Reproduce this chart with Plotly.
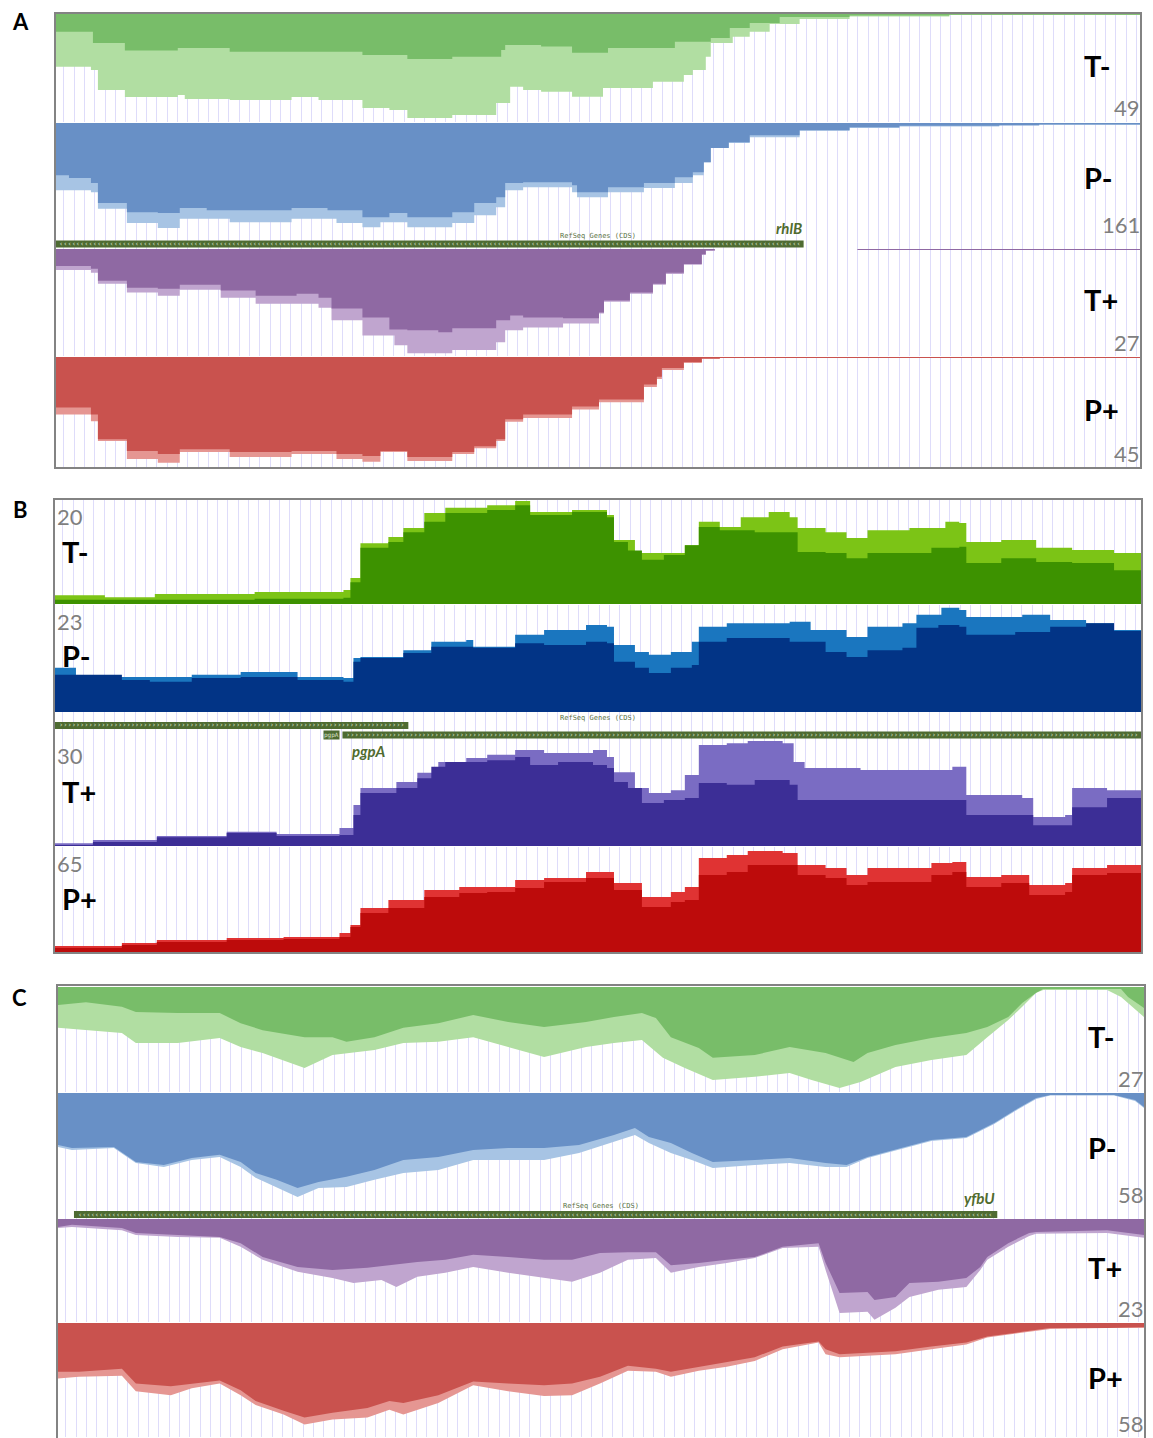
import plotly.graph_objects as go

FIG_W, FIG_H = 1153, 1438

# ------------------------------------------------------------------
# Read coverage per strand track: position offset along the locus and
# depth.  "hi" = total signal (light fill), "lo" = inner signal (dark fill)
# ------------------------------------------------------------------

# ---- Panel A : rhlB locus ----
A_Tm_lo_pos = [0, 37, 69, 122, 174, 238, 307, 352, 397, 446, 450, 486, 517, 553, 620, 656, 675, 695, 725, 795, 895, 1086]
A_Tm_lo_cov = [8.0, 13.2, 16.6, 15.4, 17.1, 17.1, 18.6, 20.4, 19.4, 16.3, 14.1, 14.8, 17.6, 15.4, 12.6, 10.9, 6.4, 4.1, 1.4, 0.7, 0.3, 0.2]
A_Tm_hi_pos = [0, 35, 42, 57, 69, 122, 129, 174, 236, 263, 307, 334, 352, 397, 441, 455, 468, 486, 517, 548, 598, 629, 638, 651, 656, 678, 695, 715, 745, 795, 895, 1086]
A_Tm_hi_cov = [23.9, 25.4, 34.5, 34.5, 37.7, 36.8, 38.6, 39.0, 37.7, 39.0, 42.6, 43.6, 47.2, 45.8, 40.4, 33.0, 34.5, 35.3, 37.5, 33.6, 30.7, 27.7, 25.4, 19.4, 13.2, 10.3, 8.0, 4.5, 2.3, 1.1, 0.5, 0.3]

A_Pm_lo_pos = [0, 13, 35, 42, 62, 71, 102, 124, 151, 218, 236, 272, 307, 334, 352, 397, 419, 441, 450, 468, 517, 522, 553, 589, 620, 638, 649, 656, 674, 695, 745, 795, 845, 945, 985, 1086]
A_Pm_lo_cov = [73, 77, 84, 112, 112, 125, 126, 119, 122, 122, 119, 122, 132, 126, 132, 125, 112, 104, 84, 83, 87, 97, 90, 84, 76, 69, 55, 35, 27, 17, 10, 6, 4, 3, 2, 1]
A_Pm_hi_pos = [0, 35, 42, 71, 102, 124, 174, 236, 281, 307, 325, 352, 397, 419, 441, 450, 468, 517, 522, 553, 589, 620, 638, 649, 656, 674, 695, 745, 795, 845, 945, 985, 1086]
A_Pm_hi_cov = [94, 97, 120, 140, 147, 134, 139, 134, 140, 146, 139, 146, 140, 129, 118, 94, 90, 97, 104, 97, 91, 84, 73, 55, 35, 28, 20, 11, 7, 5, 3.5, 2.5, 1]

A_Tp_lo_pos = [0, 35, 42, 71, 102, 124, 165, 200, 241, 263, 276, 307, 334, 352, 383, 397, 441, 455, 468, 508, 544, 549, 575, 598, 611, 629, 647, 651, 660, 802, 803, 1086]
A_Tp_lo_cov = [4.3, 5.0, 8.0, 9.8, 10.0, 9.0, 10.5, 11.8, 11.3, 12.3, 15.0, 17.3, 20.3, 20.5, 21.0, 20.0, 18.0, 16.8, 17.3, 17.5, 16.0, 13.0, 11.0, 8.8, 6.0, 3.8, 1.3, 0.3, 0, 0, 0.25, 0.25]
A_Tp_hi_pos = [0, 35, 42, 71, 102, 124, 165, 200, 241, 263, 276, 307, 330, 339, 352, 375, 397, 441, 450, 468, 508, 544, 549, 575, 598, 611, 629, 647, 651, 660, 802, 803, 1086]
A_Tp_hi_cov = [5.3, 6.0, 8.8, 11.0, 11.8, 10.3, 12.3, 13.8, 13.8, 14.8, 18.0, 21.8, 21.8, 24.3, 26.3, 26.3, 25.5, 23.5, 20.5, 19.8, 18.8, 16.3, 13.3, 11.3, 9.0, 6.3, 4.0, 1.5, 0.5, 0, 0, 0.25, 0.25]

A_Pp_pos = [0, 35, 42, 71, 102, 124, 174, 236, 281, 307, 325, 352, 397, 419, 441, 450, 468, 517, 544, 589, 602, 607, 629, 647, 665, 1086]
A_Pp_lo_cov = [20.7, 23.5, 33.6, 38.5, 39.7, 37.7, 38.9, 38.5, 39.7, 40.5, 38.5, 40.9, 38.9, 36.5, 33.6, 25.5, 23.5, 20.3, 17.4, 11.3, 8.1, 4.5, 2.0, 0.6, 0.4, 0.4]
A_Pp_hi_cov = [23.5, 26.3, 34.4, 41.7, 43.3, 38.9, 40.9, 39.7, 41.7, 42.9, 38.9, 42.5, 39.7, 37.3, 34.4, 26.5, 25.0, 21.5, 18.5, 12.3, 9.0, 5.3, 2.5, 0.8, 0.4, 0.4]

# ---- Panel B : pgpA locus ----
B_Tm_lo_pos = [0, 100, 200, 289, 296, 306, 334, 349, 370, 391, 419, 433, 461, 476, 518, 553, 560, 574, 588, 610, 631, 645, 666, 701, 736, 744, 772, 793, 814, 878, 906, 913, 948, 983, 1019, 1061, 1088]
B_Tm_lo_cov = [0.8, 0.8, 1.0, 1.2, 4.2, 10.8, 11.9, 13.8, 15.8, 17.5, 17.5, 18.1, 19.0, 17.1, 17.7, 16.7, 11.9, 10.3, 8.5, 9.4, 11.3, 14.8, 14.2, 13.8, 13.8, 10.0, 9.8, 8.8, 9.8, 10.8, 11.0, 7.9, 8.8, 8.1, 7.9, 6.5, 6.3]
B_Tm_hi_pos = [0, 50, 100, 200, 289, 296, 306, 334, 349, 370, 391, 419, 433, 461, 476, 518, 553, 560, 581, 610, 631, 645, 666, 687, 715, 736, 744, 772, 793, 814, 856, 892, 906, 913, 948, 983, 1019, 1061, 1088]
B_Tm_hi_cov = [1.7, 1.3, 1.9, 2.3, 2.7, 5.0, 11.7, 12.9, 14.6, 17.5, 18.5, 18.5, 19.0, 19.8, 17.7, 18.1, 17.1, 12.3, 9.8, 9.8, 11.3, 15.8, 14.8, 16.7, 17.7, 16.7, 14.6, 13.8, 12.7, 14.2, 14.6, 15.8, 15.6, 11.9, 12.3, 10.8, 10.4, 9.8, 9.6]

B_Pm_lo_pos = [0, 67, 95, 137, 186, 243, 289, 299, 306, 349, 377, 419, 461, 490, 532, 553, 560, 581, 595, 617, 638, 645, 673, 701, 736, 772, 793, 814, 849, 863, 885, 906, 913, 941, 962, 997, 1033, 1061, 1088]
B_Pm_lo_cov = [8.0, 6.9, 6.5, 7.3, 7.5, 6.9, 6.5, 10.8, 11.6, 12.7, 14.0, 13.8, 14.8, 14.4, 15.1, 14.8, 10.8, 9.5, 8.4, 9.5, 10.1, 15.1, 15.9, 15.9, 15.1, 12.9, 11.8, 13.3, 13.8, 18.1, 18.7, 18.3, 16.6, 16.6, 17.2, 18.3, 19.1, 17.4, 16.6]
B_Pm_hi_pos = [0, 21, 95, 137, 186, 243, 289, 299, 306, 349, 377, 412, 419, 461, 490, 532, 553, 560, 581, 595, 617, 638, 645, 673, 701, 736, 757, 793, 814, 849, 863, 888, 906, 913, 941, 969, 997, 1033, 1061, 1088]
B_Pm_hi_cov = [9.5, 7.5, 7.5, 8.0, 8.6, 7.5, 7.3, 11.6, 11.8, 13.3, 15.1, 15.5, 14.0, 16.6, 17.6, 18.7, 18.3, 14.4, 12.9, 12.3, 12.9, 15.1, 18.3, 19.1, 19.1, 19.4, 17.6, 16.1, 18.3, 19.1, 20.9, 22.4, 21.9, 20.4, 20.4, 20.9, 19.8, 19.1, 17.6, 17.2]

B_Tp_lo_pos = [0, 38, 102, 172, 222, 285, 299, 306, 342, 363, 377, 391, 433, 461, 476, 504, 539, 553, 560, 574, 588, 610, 631, 645, 673, 701, 736, 744, 807, 899, 913, 969, 980, 1012, 1019, 1054, 1088]
B_Tp_lo_cov = [0.3, 1.1, 2.5, 3.7, 2.8, 3.1, 8.8, 15.0, 16.4, 19.2, 22.4, 23.8, 24.3, 25.2, 22.9, 23.8, 22.9, 22.1, 18.1, 16.4, 12.2, 13.0, 13.6, 17.8, 17.3, 18.7, 17.3, 13.0, 13.0, 13.0, 8.8, 8.8, 5.9, 5.9, 11.0, 13.6, 13.0]
B_Tp_hi_pos = [0, 38, 102, 172, 222, 264, 285, 299, 306, 342, 363, 384, 412, 433, 461, 490, 539, 553, 560, 581, 595, 617, 631, 645, 673, 694, 729, 740, 751, 807, 899, 913, 969, 980, 1012, 1019, 1054, 1088]
B_Tp_hi_cov = [0.8, 1.7, 2.8, 4.0, 3.4, 3.4, 5.1, 11.6, 16.4, 18.1, 20.7, 23.8, 24.9, 25.8, 27.2, 26.3, 27.2, 25.2, 20.9, 16.4, 15.0, 15.8, 20.1, 28.6, 29.1, 29.7, 29.1, 23.8, 22.1, 21.5, 22.4, 14.4, 13.6, 8.2, 8.8, 16.4, 15.8, 16.4]

B_Pp_pos = [0, 67, 102, 172, 229, 285, 296, 306, 334, 370, 405, 433, 461, 490, 532, 553, 560, 588, 617, 631, 645, 673, 694, 729, 744, 772, 793, 814, 878, 899, 913, 948, 976, 1012, 1019, 1054, 1088]
B_Pp_lo_cov = [3.1, 4.9, 6.7, 8.0, 8.6, 9.8, 15.9, 24.5, 27.6, 34.3, 36.8, 37.4, 39.8, 43.5, 46.0, 46.0, 38.6, 28.2, 31.3, 32.5, 47.8, 49.7, 53.9, 53.9, 47.8, 46.0, 41.7, 43.5, 47.8, 49.7, 40.5, 42.9, 35.6, 37.4, 47.8, 49.0, 50.9]
B_Pp_hi_cov = [4.3, 6.1, 8.0, 9.2, 9.8, 12.3, 17.2, 27.6, 32.5, 38.6, 40.5, 40.5, 44.7, 46.0, 49.7, 49.7, 42.9, 34.3, 37.4, 40.5, 58.2, 60.1, 62.5, 61.3, 53.9, 52.1, 47.8, 52.1, 55.2, 55.8, 46.6, 47.8, 41.7, 42.9, 52.1, 53.9, 52.7]

# ---- Panel C : yfbU locus ----
C_Tm_lo_pos = [0, 28, 64, 78, 120, 162, 183, 205, 247, 275, 289, 317, 346, 381, 416, 451, 487, 529, 557, 585, 599, 614, 642, 656, 698, 733, 769, 797, 811, 839, 875, 910, 931, 952, 966, 980, 987, 1065, 1072, 1088]
C_Tm_lo_cov = [4.6, 3.9, 5.1, 6.4, 6.7, 6.7, 9.3, 11.1, 12.9, 12.9, 14.1, 12.9, 10.5, 9.3, 7.2, 9.0, 10.3, 9.0, 7.7, 6.7, 8.0, 12.9, 15.7, 18.2, 17.5, 15.4, 17.0, 19.3, 17.0, 14.9, 13.1, 11.8, 10.3, 7.7, 4.1, 1.5, 0.5, 0.5, 2.6, 5.4]
C_Tm_hi_pos = [0, 28, 64, 78, 120, 162, 183, 205, 247, 275, 317, 346, 381, 416, 451, 487, 529, 557, 585, 606, 628, 656, 698, 733, 755, 783, 804, 839, 875, 910, 931, 952, 966, 980, 987, 1051, 1065, 1088]
C_Tm_hi_cov = [10.5, 11.1, 11.8, 14.4, 14.4, 13.1, 15.4, 17.0, 20.8, 17.5, 16.2, 14.4, 14.1, 12.9, 15.4, 18.0, 15.4, 14.4, 13.6, 18.2, 20.8, 23.9, 23.1, 22.1, 23.9, 26.0, 24.4, 20.6, 18.8, 17.5, 12.9, 8.5, 5.1, 1.5, 0.8, 0.8, 2.6, 7.7]

C_Pm_pos = [0, 14, 56, 78, 106, 134, 162, 183, 198, 219, 240, 261, 289, 317, 346, 381, 416, 451, 487, 522, 557, 578, 592, 614, 635, 656, 698, 733, 769, 790, 811, 839, 875, 910, 938, 959, 980, 994, 1058, 1079, 1088]
C_Pm_lo_cov = [26.2, 27.7, 27.2, 34.8, 36.3, 32.8, 31.2, 34.8, 40.3, 43.8, 47.9, 44.9, 42.3, 38.8, 33.8, 32.3, 28.7, 27.7, 27.7, 26.2, 21.2, 17.6, 22.2, 25.2, 30.2, 34.8, 33.8, 32.8, 35.3, 36.3, 32.3, 28.7, 23.7, 22.2, 15.1, 8.6, 2.5, 1.0, 1.0, 3.5, 7.1]
C_Pm_hi_cov = [27.2, 28.7, 27.7, 35.3, 37.3, 33.8, 32.3, 37.3, 42.8, 47.4, 52.4, 47.9, 47.4, 43.8, 40.3, 38.8, 33.8, 33.8, 33.8, 30.2, 24.7, 21.2, 25.2, 30.2, 33.8, 37.8, 36.3, 35.3, 37.3, 37.3, 32.8, 29.2, 24.2, 22.7, 15.6, 9.1, 3.0, 1.3, 1.3, 4.0, 7.6]

C_Tp_lo_pos = [0, 14, 64, 78, 120, 162, 183, 205, 240, 275, 310, 332, 360, 388, 416, 451, 487, 515, 543, 571, 599, 614, 642, 670, 698, 726, 762, 769, 783, 811, 818, 839, 853, 882, 910, 924, 931, 952, 973, 980, 1051, 1088]
C_Tp_lo_cov = [1.8, 1.3, 2.0, 3.1, 3.6, 4.0, 5.4, 8.5, 10.7, 11.4, 10.9, 10.3, 9.6, 9.1, 8.0, 8.5, 9.1, 9.1, 7.6, 7.4, 7.4, 10.3, 9.8, 9.1, 8.5, 6.2, 5.4, 9.8, 16.5, 16.3, 18.1, 17.4, 14.3, 14.0, 13.2, 10.7, 8.5, 5.4, 3.1, 2.9, 2.5, 3.6]
C_Tp_hi_pos = [0, 14, 64, 78, 120, 162, 183, 205, 240, 275, 296, 324, 339, 360, 388, 416, 451, 487, 515, 543, 571, 599, 614, 642, 670, 698, 726, 762, 769, 783, 811, 818, 839, 853, 882, 910, 924, 931, 952, 973, 980, 1051, 1088]
C_Tp_hi_cov = [2.0, 1.8, 2.5, 3.6, 4.0, 4.2, 6.2, 9.1, 11.8, 13.2, 14.3, 13.6, 15.2, 12.9, 12.0, 10.7, 12.0, 13.2, 14.0, 12.0, 9.1, 8.7, 12.0, 10.7, 9.8, 8.7, 6.5, 6.2, 11.4, 21.0, 20.7, 22.5, 19.8, 17.4, 15.8, 15.2, 11.4, 9.1, 6.2, 3.8, 3.3, 3.1, 4.2]

C_Pp_pos = [0, 21, 64, 78, 113, 134, 162, 183, 198, 226, 247, 275, 310, 332, 346, 381, 416, 451, 487, 515, 543, 571, 599, 614, 642, 670, 698, 726, 762, 769, 783, 839, 875, 910, 931, 966, 994, 1051, 1088]
C_Pp_lo_cov = [24.8, 24.8, 23.3, 30.8, 32.2, 30.8, 29.3, 34.2, 39.7, 44.6, 48.1, 45.6, 43.2, 39.7, 40.7, 36.7, 29.8, 30.8, 31.7, 30.8, 27.3, 21.8, 23.3, 24.8, 22.3, 19.8, 17.4, 11.9, 9.4, 13.4, 15.9, 14.4, 11.9, 9.9, 6.9, 4.5, 2.5, 2.5, 2.0]
C_Pp_hi_cov = [28.3, 27.3, 26.8, 34.7, 36.7, 33.2, 30.8, 36.7, 41.7, 46.6, 51.6, 49.1, 48.1, 44.1, 46.6, 40.7, 31.7, 34.7, 37.2, 36.7, 30.8, 24.3, 24.8, 27.3, 24.3, 22.3, 19.3, 13.4, 9.9, 15.9, 17.4, 15.9, 13.4, 10.9, 7.4, 5.0, 3.0, 2.5, 2.5]

# track names and data-range maxima (shown as the scale label)
TRACK_NAMES = ["T-", "P-", "T+", "P+"]
A_SCALES = [49, 161, 27, 45]
B_SCALES = [20, 23, 30, 65]
C_SCALES = [27, 58, 23, 58]

# RefSeq CDS annotations (start/end offsets, strand)
A_GENES = dict(name=["rhlB"], start=[0], end=[749], strand=["-"])
B_GENES = dict(name=["", "pgpA"], start=[0, 288], end=[354, 1088], strand=["+", "+"])
C_GENES = dict(name=["yfbU"], start=[16], end=[941], strand=["-"])

# ------------------------------------------------------------------
# Styling
# ------------------------------------------------------------------
SOFT = {  # light / dark fills for the downward-drawn panels
    "T-": ("#b1dea2", "#78bd69"),
    "P-": ("#a7c4e4", "#6890c6"),
    "T+": ("#c0a5cf", "#8f69a3"),
    "P+": ("#e59692", "#c9524e"),
}
DEEP = {  # light / dark fills for the upward-drawn panel
    "T-": ("#7cc416", "#3d9200"),
    "P-": ("#1a76bf", "#023486"),
    "T+": ("#7a6cc3", "#3c2e96"),
    "P+": ("#e03333", "#bd0b0b"),
}
GRID = "rgb(222,220,250)"
FRAME = "#838383"
GENE_FILL = "#4e6b32"
GENE_TEXT = "#506b2e"
FONT = "Lato, 'Open Sans', 'Liberation Sans', sans-serif"


def py(px):
    return 1 - px / FIG_H


def pxx(px):
    return px / FIG_W


def paper_text(xpx, ypx, text, size, color, xanchor="center", family=FONT):
    return dict(xref="paper", yref="paper", x=pxx(xpx), y=py(ypx), text=text,
                showarrow=False, xanchor=xanchor, yanchor="middle",
                font=dict(family=family, size=size, color=color))


panels = [
    dict(letter="A", letter_at=(21, 21), frame=(55, 13, 1141, 468), xspan=(56, 1140), xmax=1086,
         down=True, palette=SOFT, scales=A_SCALES, step="hv",
         rows=[(14, 122), (123, 238), (249, 356), (357, 467)],
         data=[((A_Tm_hi_pos, A_Tm_hi_cov), (A_Tm_lo_pos, A_Tm_lo_cov)),
               ((A_Pm_hi_pos, A_Pm_hi_cov), (A_Pm_lo_pos, A_Pm_lo_cov)),
               ((A_Tp_hi_pos, A_Tp_hi_cov), (A_Tp_lo_pos, A_Tp_lo_cov)),
               ((A_Pp_pos, A_Pp_hi_cov), (A_Pp_pos, A_Pp_lo_cov))],
         gene_row=(238, 249), genes=A_GENES, lanes=[244], refseq_y=236,
         name_pos=[("right", 228)]),
    dict(letter="B", letter_at=(21, 509), frame=(54, 499, 1142, 953), xspan=(55, 1141), xmax=1088,
         down=False, palette=DEEP, scales=B_SCALES, step="hv",
         rows=[(500, 604), (605, 712), (740, 846), (847, 953)],
         data=[((B_Tm_hi_pos, B_Tm_hi_cov), (B_Tm_lo_pos, B_Tm_lo_cov)),
               ((B_Pm_hi_pos, B_Pm_hi_cov), (B_Pm_lo_pos, B_Pm_lo_cov)),
               ((B_Tp_hi_pos, B_Tp_hi_cov), (B_Tp_lo_pos, B_Tp_lo_cov)),
               ((B_Pp_pos, B_Pp_hi_cov), (B_Pp_pos, B_Pp_lo_cov))],
         gene_row=(712, 740), genes=B_GENES, lanes=[725.5, 735], refseq_y=718,
         name_pos=[None, ("left", 751)]),
    dict(letter="C", letter_at=(19, 997), frame=(57, 985, 1145, 1450), xspan=(58, 1144), xmax=1088,
         down=True, palette=SOFT, scales=C_SCALES, step="linear",
         rows=[(987, 1092), (1093, 1208), (1219, 1322), (1323, 1437)],
         data=[((C_Tm_hi_pos, C_Tm_hi_cov), (C_Tm_lo_pos, C_Tm_lo_cov)),
               ((C_Pm_pos, C_Pm_hi_cov), (C_Pm_pos, C_Pm_lo_cov)),
               ((C_Tp_hi_pos, C_Tp_hi_cov), (C_Tp_lo_pos, C_Tp_lo_cov)),
               ((C_Pp_pos, C_Pp_hi_cov), (C_Pp_pos, C_Pp_lo_cov))],
         gene_row=(1208, 1219), genes=C_GENES, lanes=[1214.5], refseq_y=1206,
         name_pos=[("right", 1198)]),
]

fig = go.Figure()
axes = {}
annotations = []
shapes = []

for p, pan in enumerate(panels):
    xid = "" if p == 0 else str(p + 1)
    xref = "x" + xid
    first_y = p * 5 + 1
    axes["xaxis" + xid] = dict(
        domain=[pxx(pan["xspan"][0]), pxx(pan["xspan"][1])], range=[0, pan["xmax"]],
        anchor="y" if first_y == 1 else "y%d" % first_y,
        showgrid=True, gridcolor=GRID, gridwidth=1, tick0=8, dtick=10.33,
        showticklabels=False, ticks="", zeroline=False, showline=False, fixedrange=True)

    fx0, fy0, fx1, fy1 = pan["frame"]
    shapes.append(dict(type="rect", xref="paper", yref="paper",
                       x0=pxx(fx0), x1=pxx(fx1), y0=py(fy1), y1=py(fy0),
                       line=dict(color=FRAME, width=2), fillcolor="rgba(0,0,0,0)", layer="above"))
    annotations.append(paper_text(pan["letter_at"][0], pan["letter_at"][1],
                                  "<b>%s</b>" % pan["letter"], 22, "black"))

    # coverage tracks
    for j, ((hi_pos, hi_cov), (lo_pos, lo_cov)) in enumerate(pan["data"]):
        yi = p * 5 + j + 1
        yref = "y" if yi == 1 else "y%d" % yi
        top, bottom = pan["rows"][j]
        scale = pan["scales"][j]
        name = TRACK_NAMES[j]
        axes["yaxis" + ("" if yi == 1 else str(yi))] = dict(
            domain=[py(bottom), py(top)], range=[scale, 0] if pan["down"] else [0, scale],
            anchor=xref, showgrid=False, zeroline=False, showticklabels=False,
            ticks="", showline=False, fixedrange=True)
        light, dark = pan["palette"][name]
        for xs, ys, col in ((hi_pos, hi_cov, light), (lo_pos, lo_cov, dark)):
            fig.add_trace(go.Scatter(x=xs, y=ys, xaxis=xref, yaxis=yref, mode="lines",
                                     line=dict(width=0, color=col, shape=pan["step"]),
                                     fill="tozeroy", fillcolor=col,
                                     hoverinfo="skip", showlegend=False))
        if pan["down"]:
            annotations.append(paper_text(fx1 - 59, (top + bottom) / 2 - 3,
                                          "<b>%s</b>" % name, 29, "black", xanchor="left"))
            annotations.append(paper_text(fx1 + 1, bottom - 14, str(scale), 22, "#7f7f7f",
                                          xanchor="right"))
        else:
            annotations.append(paper_text(fx0 + 1, top + 16, str(scale), 22, "#7f7f7f",
                                          xanchor="left"))
            annotations.append(paper_text(fx0 + 6, top + 51, "<b>%s</b>" % name, 29, "black",
                                          xanchor="left"))

    # gene annotation row
    gi = p * 5 + 5
    gref = "y%d" % gi
    g_top, g_bot = pan["gene_row"]
    g_h = g_bot - g_top
    axes["yaxis%d" % gi] = dict(domain=[py(g_bot), py(g_top)], range=[0, 1], anchor=xref,
                                showgrid=False, zeroline=False, showticklabels=False,
                                ticks="", showline=False, fixedrange=True)
    genes = pan["genes"]
    lane_y = [(g_bot - c) / g_h for c in pan["lanes"]]
    fig.add_trace(go.Bar(orientation="h", base=genes["start"],
                         x=[e - s for s, e in zip(genes["start"], genes["end"])],
                         y=lane_y, width=[7 / g_h] * len(lane_y), xaxis=xref, yaxis=gref,
                         marker=dict(color=GENE_FILL, line=dict(width=0)),
                         hoverinfo="skip", showlegend=False))
    for k, (s, e, strand) in enumerate(zip(genes["start"], genes["end"], genes["strand"])):
        n = int((e - s - 6) / 4.22)
        annotations.append(dict(xref=xref, yref=gref, x=(s + e) / 2, y=lane_y[k],
                                xanchor="center", yanchor="middle",
                                text=("‹" if strand == "-" else "›") * n, showarrow=False,
                                font=dict(family="DejaVu Sans Mono", size=7, color="#d9e2cb")))
        where = pan["name_pos"][k]
        if where is None:
            continue
        side, ypx = where
        label = "<b><i>%s</i></b>" % genes["name"][k]
        annotations.append(dict(xref=xref, yref="paper", x=e if side == "right" else s + 8,
                                y=py(ypx), text=label, showarrow=False,
                                xanchor=side, yanchor="middle",
                                font=dict(family=FONT, size=15, color=GENE_TEXT)))
        if side == "left":
            # compact name tag drawn just left of the feature start
            annotations.append(dict(xref=xref, yref=gref, x=s - 2, y=lane_y[k], text=genes["name"][k],
                                    showarrow=False, xanchor="right", yanchor="middle",
                                    bgcolor=GENE_FILL, borderpad=0,
                                    font=dict(family="DejaVu Sans Mono", size=6, color="#d9e2cb")))
    annotations.append(dict(xref=xref + " domain", yref="paper", x=0.5, y=py(pan["refseq_y"]),
                            xanchor="center", yanchor="middle",
                            text="RefSeq Genes (CDS)", showarrow=False,
                            font=dict(family="DejaVu Sans Mono", size=7, color="#5d7446")))

fig.update_layout(
    width=FIG_W, height=FIG_H, margin=dict(l=0, r=0, t=0, b=0),
    paper_bgcolor="white", plot_bgcolor="white", showlegend=False,
    barmode="overlay", annotations=annotations, shapes=shapes, **axes)

fig.write_html("out.html")
